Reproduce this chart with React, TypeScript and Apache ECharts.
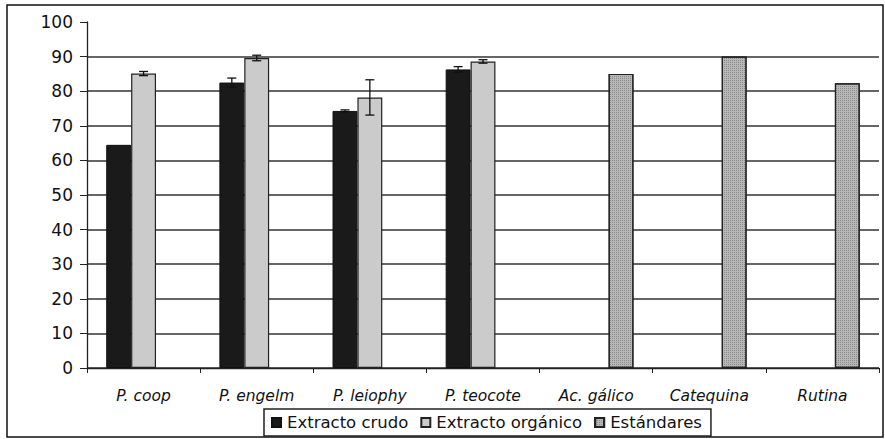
import React, { useEffect, useRef } from "react";
import * as echarts from "echarts";

const categories = ["P. coop", "P. engelm", "P. leiophy", "P. teocote", "Ac. gálico", "Catequina", "Rutina"];
const crudo = [64.5, 82.5, 74.3, 86.3, null, null, null];
const crudoErr = [0, 1.3, 0.3, 0.8, 0, 0, 0];
const organico = [85.1, 89.6, 78.2, 88.6, null, null, null];
const organicoErr = [0.6, 0.8, 5.1, 0.5, 0, 0, 0];
const estandares = [null, null, null, null, 85, 90, 82.3];
const yTicks = { min: 0, max: 100, interval: 10 };

const CAT_GAP = 0.34;
const FONT = "DejaVu Sans, Liberation Sans, Arial, sans-serif";

export default function App() {
  const ref = useRef<HTMLDivElement>(null);
  useEffect(() => {
    document.body.style.margin = "0";
    const chart = echarts.init(ref.current!, null, { renderer: "svg" });
    const errData: any[] = [];
    crudo.forEach((v, i) => {
      if (v != null && crudoErr[i] > 0) errData.push([i, v, crudoErr[i], 0]);
    });
    organico.forEach((v, i) => {
      if (v != null && organicoErr[i] > 0) errData.push([i, v, organicoErr[i], 1]);
    });
    chart.setOption({
      animation: false,
      textStyle: { fontFamily: FONT },
      grid: { left: 87, right: 6, top: 22, bottom: 71, containLabel: false },
      legend: {
        data: ["Extracto crudo", "Extracto orgánico", "Estándares"],
        icon: "rect",
        left: 264,
        top: 409,
        itemWidth: 9,
        itemHeight: 9,
        itemGap: 12,
        padding: [5, 9, 5, 7],
        borderColor: "#222",
        borderWidth: 1.5,
        textStyle: { fontSize: 16.5, color: "#111", padding: [0, 0, 0, 1] },
      },
      graphic: [
        {
          type: "rect",
          shape: { x: 7, y: 5, width: 876, height: 432 },
          style: { fill: "none", stroke: "#111", lineWidth: 1.5 },
          silent: true,
          z: -1,
        },
      ],
      xAxis: {
        type: "category",
        data: categories,
        axisLine: { lineStyle: { color: "#222", width: 1.3 } },
        axisTick: { show: true, length: 5, lineStyle: { color: "#222" } },
        axisLabel: { fontSize: 15.5, fontStyle: "italic", color: "#111", margin: 20 },
      },
      yAxis: {
        type: "value",
        min: yTicks.min,
        max: yTicks.max,
        interval: yTicks.interval,
        axisLine: { show: true, lineStyle: { color: "#222", width: 1.3 } },
        axisTick: { show: true, length: 7, lineStyle: { color: "#222" } },
        axisLabel: { fontSize: 17, color: "#111", margin: 14 },
        splitLine: { show: true, showMaxLine: false, lineStyle: { color: "#333", width: 1.5 } },
      },
      series: [
        {
          name: "Extracto crudo",
          type: "bar",
          data: crudo,
          barGap: "0%",
          barCategoryGap: CAT_GAP * 100 + "%",
          itemStyle: { color: "#1a1a1a", borderColor: "#111", borderWidth: 1 },
        },
        {
          name: "Extracto orgánico",
          type: "bar",
          data: organico,
          barGap: "0%",
          barCategoryGap: CAT_GAP * 100 + "%",
          itemStyle: { color: "#cbcbcb", borderColor: "#222", borderWidth: 1.2 },
        },
        {
          name: "Estándares",
          type: "bar",
          data: estandares,
          barGap: "0%",
          barCategoryGap: CAT_GAP * 100 + "%",
          itemStyle: {
            color: "#b8b8b8",
            borderColor: "#222",
            borderWidth: 1.2,
            decal: {
              symbol: "rect",
              symbolSize: 1,
              dashArrayX: [1, 1],
              dashArrayY: [1, 1],
              color: "rgba(50,50,50,0.35)",
            },
          },
        },
        {
          name: "err",
          type: "custom",
          data: errData,
          z: 10,
          renderItem: (params: any, api: any) => {
            const idx = api.value(0);
            const v = api.value(1);
            const e = api.value(2);
            const slot = api.value(3);
            const bandW = api.size([1, 0])[0];
            const barW = (bandW * (1 - CAT_GAP)) / 3;
            const c = api.coord([idx, v]);
            const x = c[0] + (slot - 1) * barW;
            const top = api.coord([idx, v + e])[1];
            const bot = api.coord([idx, v - e])[1];
            const cap = 4.5;
            const st = { stroke: "#111", lineWidth: 1.3 };
            return {
              type: "group",
              children: [
                { type: "line", shape: { x1: x, y1: top, x2: x, y2: bot }, style: st },
                { type: "line", shape: { x1: x - cap, y1: top, x2: x + cap, y2: top }, style: st },
                { type: "line", shape: { x1: x - cap, y1: bot, x2: x + cap, y2: bot }, style: st },
              ],
            };
          },
        },
      ],
    });
    return () => chart.dispose();
  }, []);
  return <div ref={ref} style={{ width: 885, height: 439 }} />;
}
